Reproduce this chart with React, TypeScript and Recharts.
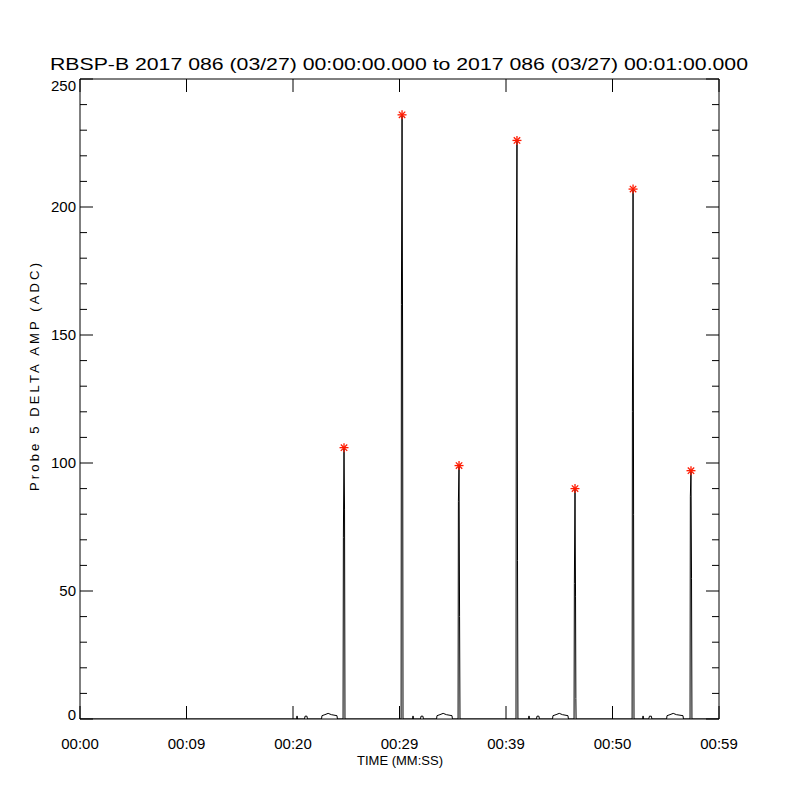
import React from 'react';
import {
    ComposedChart,
    Line,
    Scatter,
    XAxis,
    YAxis
} from 'recharts';

// sample times (s after 00:00:00) and probe 5 delta amplitude (ADC)
const TIME_S = [
    0, 20.33, 20.38, 20.43, 21.08, 21.13, 21.31, 21.36,
    22.68, 22.72, 23.0, 23.3, 23.6, 24.13, 24.17,
    24.70, 24.73, 24.79, 24.84, 24.88,
    30.15, 30.18, 30.24, 30.29, 30.33,
    31.22, 31.27, 31.32, 31.97, 32.02, 32.20, 32.25,
    33.48, 33.52, 33.8, 34.1, 34.4, 34.93, 34.97,
    35.50, 35.53, 35.59, 35.64, 35.68,
    40.94, 40.97, 41.03, 41.08, 41.12,
    42.11, 42.16, 42.21, 42.86, 42.91, 43.09, 43.14,
    44.37, 44.41, 44.7, 45.0, 45.3, 45.82, 45.86,
    46.39, 46.42, 46.48, 46.53, 46.56, 46.58,
    51.84, 51.87, 51.93, 51.98, 52.02,
    52.82, 52.87, 52.92, 53.40, 53.47, 53.65, 53.70,
    55.08, 55.12, 55.4, 55.7, 56.0, 56.62, 56.66,
    57.28, 57.31, 57.37, 57.42, 57.46,
    60,
];
const AMP_ADC = [
    0, 0, 1.2, 0, 0, 1.1, 1.1, 0,
    0, 1.3, 1.7, 2.2, 1.7, 1.3, 0,
    0, 71, 106, 82, 0,
    0, 162, 236, 150, 0,
    0, 1.2, 0, 0, 1.1, 1.1, 0,
    0, 1.3, 1.7, 2.2, 1.7, 1.3, 0,
    0, 85, 99, 40, 0,
    0, 175, 226, 62, 0,
    0, 1.2, 0, 0, 1.1, 1.1, 0,
    0, 1.3, 1.7, 2.2, 1.7, 1.3, 0,
    0, 53, 90, 48, 8, 0,
    0, 120, 207, 80, 0,
    0, 1.2, 0, 0, 1.1, 1.1, 0,
    0, 1.3, 1.7, 2.2, 1.7, 1.3, 0,
    0, 87, 97, 55, 0,
    0,
];

// marked peaks
const PEAK_TIME = [24.79, 30.24, 35.59, 41.03, 46.48, 51.93, 57.37];
const PEAK_AMP = [106, 236, 99, 226, 90, 207, 97];

const X_TICKS = [0, 10, 20, 30, 40, 50, 60];
const X_TICK_LABELS = ['00:00', '00:09', '00:20', '00:29', '00:39', '00:50', '00:59'];
const Y_TICKS = Array.from({ length: 26 }, (_, i) => i * 10);

const TITLE = 'RBSP-B 2017 086 (03/27) 00:00:00.000 to 2017 086 (03/27) 00:01:00.000';

const FONT = '"Liberation Sans", "DejaVu Sans", sans-serif';

const lineData = TIME_S.map((t, i) => ({ t, amp: AMP_ADC[i] }));
const peakData = PEAK_TIME.map((t, i) => ({ t, amp: PEAK_AMP[i] }));

const BottomTick = (props: any) => {
    const { x, y, payload } = props;
    const idx = X_TICKS.indexOf(payload.value);
    return (
        <g>
            <line x1={x} x2={x} y1={y} y2={y - 13} stroke="#000" />
            <text x={x} y={y + 30} textAnchor="middle" fontSize={15} fontFamily={FONT} fill="#000">
                {X_TICK_LABELS[idx]}
            </text>
        </g>
    );
};

const TopTick = (props: any) => {
    const { x, y } = props;
    return <line x1={x} x2={x} y1={y} y2={y + 13} stroke="#000" />;
};

const LeftTick = (props: any) => {
    const { x, y, payload } = props;
    const major = payload.value % 50 === 0;
    // the end labels sit inside the axis span, as in the original plot
    const shift = payload.value === 250 ? 7 : payload.value === 0 ? -4 : 0;
    return (
        <g>
            <line x1={x} x2={x + (major ? 13 : 7)} y1={y} y2={y} stroke="#000" />
            {major && (
                <text x={x - 4} y={y + 5 + shift} textAnchor="end" fontSize={15} fontFamily={FONT} fill="#000">
                    {payload.value}
                </text>
            )}
        </g>
    );
};

const RightTick = (props: any) => {
    const { x, y, payload } = props;
    const major = payload.value % 50 === 0;
    return <line x1={x} x2={x - (major ? 13 : 7)} y1={y} y2={y} stroke="#000" />;
};

const Asterisk = (props: any) => {
    const { cx, cy } = props;
    const r = 4.5;
    const d = 3.2;
    const c = '#ff1a00';
    return (
        <g stroke={c} strokeWidth={1.3}>
            <line x1={cx - r} x2={cx + r} y1={cy} y2={cy} />
            <line x1={cx} x2={cx} y1={cy - r} y2={cy + r} />
            <line x1={cx - d} x2={cx + d} y1={cy - d} y2={cy + d} />
            <line x1={cx - d} x2={cx + d} y1={cy + d} y2={cy - d} />
        </g>
    );
};

export default function App() {
    return (
        <div style={{ position: 'absolute', left: 0, top: 0, width: 800, height: 800, background: '#fff' }}>
            <ComposedChart
                width={800}
                height={800}
                data={lineData}
                margin={{ top: 49, right: 0, bottom: 0, left: 0 }}
            >
                <XAxis
                    xAxisId="bottom"
                    dataKey="t"
                    type="number"
                    domain={[0, 60]}
                    ticks={X_TICKS}
                    interval={0}
                    allowDataOverflow
                    height={81}
                    tickSize={0}
                    tickMargin={0}
                    tickLine={false}
                    axisLine={{ stroke: '#000' }}
                    tick={BottomTick}
                />
                <XAxis
                    xAxisId="top"
                    orientation="top"
                    dataKey="t"
                    type="number"
                    domain={[0, 60]}
                    ticks={X_TICKS}
                    interval={0}
                    allowDataOverflow
                    height={30}
                    tickSize={0}
                    tickMargin={0}
                    tickLine={false}
                    axisLine={{ stroke: '#000' }}
                    tick={TopTick}
                />
                <YAxis
                    yAxisId="left"
                    type="number"
                    domain={[0, 250]}
                    ticks={Y_TICKS}
                    interval={0}
                    allowDataOverflow
                    width={80}
                    tickSize={0}
                    tickMargin={0}
                    tickLine={false}
                    axisLine={{ stroke: '#000' }}
                    tick={LeftTick}
                />
                <YAxis
                    yAxisId="right"
                    orientation="right"
                    type="number"
                    domain={[0, 250]}
                    ticks={Y_TICKS}
                    interval={0}
                    allowDataOverflow
                    width={81}
                    tickSize={0}
                    tickMargin={0}
                    tickLine={false}
                    axisLine={{ stroke: '#000' }}
                    tick={RightTick}
                />
                <Line
                    xAxisId="bottom"
                    yAxisId="left"
                    type="linear"
                    dataKey="amp"
                    stroke="#000"
                    strokeWidth={1}
                    dot={false}
                    activeDot={false}
                    isAnimationActive={false}
                />
                <Scatter
                    xAxisId="bottom"
                    yAxisId="left"
                    data={peakData}
                    dataKey="amp"
                    shape={Asterisk}
                    isAnimationActive={false}
                />
            </ComposedChart>
            <svg
                width={800}
                height={800}
                style={{ position: 'absolute', left: 0, top: 0, pointerEvents: 'none' }}
            >
                <text
                    x={50}
                    y={70}
                    textLength={698}
                    lengthAdjust="spacingAndGlyphs"
                    fontSize={17}
                    fontFamily={FONT}
                    fill="#000"
                >
                    {TITLE}
                </text>
                <text
                    x={400}
                    y={765}
                    textAnchor="middle"
                    fontSize={13}
                    fontFamily={FONT}
                    fill="#000"
                >
                    TIME (MM:SS)
                </text>
                <text
                    transform="translate(39 377) rotate(-90)"
                    textAnchor="middle"
                    textLength={228}
                    lengthAdjust="spacing"
                    fontSize={13}
                    fontFamily={FONT}
                    fill="#000"
                >
                    Probe 5 DELTA AMP (ADC)
                </text>
            </svg>
        </div>
    );
}
